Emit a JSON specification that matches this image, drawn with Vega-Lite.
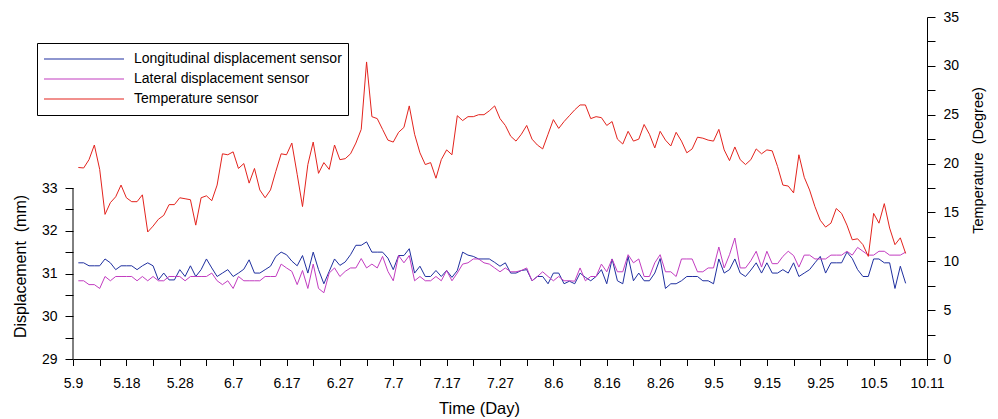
{
"$schema": "https://vega.github.io/schema/vega-lite/v6.json",
"width": 854, "height": 342,
"autosize": "none",
"padding": {"left": 73, "top": 17, "right": 71, "bottom": 60},
"background": "white",
"config": {"view": {"stroke": null}, "font": "Liberation Sans",
  "axis": {"grid": false, "domainColor": "black", "tickColor": "black", "labelColor": "black", "titleColor": "black", "labelFont": "Liberation Sans", "titleFont": "Liberation Sans", "labelFontSize": 14, "titleFontSize": 16, "titleFontWeight": "normal", "domainWidth": 1, "tickWidth": 1, "labelOverlap": false, "labelFlush": false, "labelBound": false}},
"data": {"values": [
{"d":1,"lon":31.25,"lat":30.83,"temp":19.6},{"d":2,"lon":31.25,"lat":30.83,"temp":19.55},{"d":3,"lon":31.18,"lat":30.74,"temp":20.4},{"d":4,"lon":31.18,"lat":30.74,"temp":21.9},{"d":5,"lon":31.18,"lat":30.65,"temp":19.4},
{"d":6,"lon":31.34,"lat":30.93,"temp":14.8},{"d":7,"lon":31.25,"lat":30.83,"temp":16.0},{"d":8,"lon":31.09,"lat":30.93,"temp":16.6},{"d":9,"lon":31.18,"lat":30.93,"temp":17.8},{"d":10,"lon":31.18,"lat":30.93,"temp":16.5},
{"d":11,"lon":31.18,"lat":30.93,"temp":16.1},{"d":12,"lon":31.09,"lat":30.83,"temp":16.1},{"d":13,"lon":31.18,"lat":30.93,"temp":16.8},{"d":14,"lon":31.25,"lat":30.83,"temp":13.0},{"d":15,"lon":31.18,"lat":30.93,"temp":13.6},
{"d":16,"lon":30.85,"lat":30.83,"temp":14.3},{"d":17,"lon":31.01,"lat":30.83,"temp":14.7},{"d":18,"lon":30.85,"lat":30.93,"temp":15.8},{"d":19,"lon":30.85,"lat":30.93,"temp":15.8},{"d":20,"lon":31.09,"lat":30.93,"temp":16.5},
{"d":21,"lon":30.93,"lat":30.83,"temp":16.4},{"d":22,"lon":31.18,"lat":30.93,"temp":16.3},{"d":23,"lon":30.93,"lat":30.93,"temp":13.7},{"d":24,"lon":31.09,"lat":30.93,"temp":16.5},{"d":25,"lon":31.34,"lat":30.93,"temp":16.7},
{"d":26,"lon":31.13,"lat":31.01,"temp":16.2},{"d":27,"lon":30.93,"lat":30.83,"temp":17.8},{"d":28,"lon":31.01,"lat":30.74,"temp":21.0},{"d":29,"lon":31.09,"lat":30.83,"temp":20.9},{"d":30,"lon":30.93,"lat":30.65,"temp":21.2},
{"d":31,"lon":31.01,"lat":30.93,"temp":19.5},{"d":32,"lon":31.10,"lat":30.83,"temp":20.0},{"d":33,"lon":31.32,"lat":30.83,"temp":18.0},{"d":34,"lon":31.01,"lat":30.83,"temp":19.5},{"d":35,"lon":31.01,"lat":30.83,"temp":17.3},
{"d":36,"lon":31.09,"lat":30.93,"temp":16.5},{"d":37,"lon":31.17,"lat":30.93,"temp":17.3},{"d":38,"lon":31.40,"lat":30.93,"temp":19.2},{"d":39,"lon":31.50,"lat":31.22,"temp":21.0},{"d":40,"lon":31.44,"lat":31.13,"temp":20.9},
{"d":41,"lon":31.29,"lat":31.05,"temp":22.1},{"d":42,"lon":31.18,"lat":30.74,"temp":18.9},{"d":43,"lon":31.42,"lat":31.07,"temp":15.6},{"d":44,"lon":31.01,"lat":30.65,"temp":19.9},{"d":45,"lon":31.50,"lat":31.22,"temp":22.2},
{"d":46,"lon":31.09,"lat":30.65,"temp":19.0},{"d":47,"lon":30.76,"lat":30.55,"temp":20.1},{"d":48,"lon":31.05,"lat":31.01,"temp":19.4},{"d":49,"lon":31.34,"lat":31.13,"temp":21.9},{"d":50,"lon":31.19,"lat":30.93,"temp":20.4},
{"d":51,"lon":31.27,"lat":31.05,"temp":20.5},{"d":52,"lon":31.44,"lat":31.13,"temp":21.0},{"d":53,"lon":31.66,"lat":31.13,"temp":22.1},{"d":54,"lon":31.66,"lat":31.35,"temp":23.5},{"d":55,"lon":31.74,"lat":31.13,"temp":30.4},
{"d":56,"lon":31.50,"lat":31.22,"temp":24.8},{"d":57,"lon":31.50,"lat":31.13,"temp":24.6},{"d":58,"lon":31.50,"lat":31.40,"temp":23.5},{"d":59,"lon":31.36,"lat":31.05,"temp":22.4},{"d":60,"lon":31.09,"lat":30.83,"temp":22.2},
{"d":61,"lon":31.42,"lat":31.42,"temp":23.2},{"d":62,"lon":31.42,"lat":31.25,"temp":23.7},{"d":63,"lon":31.58,"lat":31.42,"temp":25.9},{"d":64,"lon":31.01,"lat":30.83,"temp":23.0},{"d":65,"lon":31.17,"lat":30.93,"temp":21.1},
{"d":66,"lon":30.93,"lat":30.83,"temp":19.9},{"d":67,"lon":30.93,"lat":30.83,"temp":20.1},{"d":68,"lon":31.07,"lat":30.93,"temp":18.5},{"d":69,"lon":30.93,"lat":30.83,"temp":20.4},{"d":70,"lon":31.07,"lat":31.07,"temp":21.4},
{"d":71,"lon":30.91,"lat":30.83,"temp":20.9},{"d":72,"lon":31.07,"lat":31.01,"temp":24.9},{"d":73,"lon":31.50,"lat":31.22,"temp":24.4},{"d":74,"lon":31.43,"lat":31.25,"temp":24.8},{"d":75,"lon":31.40,"lat":31.34,"temp":24.8},
{"d":76,"lon":31.34,"lat":31.34,"temp":25.0},{"d":77,"lon":31.34,"lat":31.25,"temp":25.0},{"d":78,"lon":31.34,"lat":31.22,"temp":25.4},{"d":79,"lon":31.26,"lat":31.13,"temp":25.9},{"d":80,"lon":31.17,"lat":31.04,"temp":24.6},
{"d":81,"lon":31.25,"lat":31.13,"temp":23.9},{"d":82,"lon":31.01,"lat":31.04,"temp":22.8},{"d":83,"lon":31.01,"lat":31.04,"temp":22.3},{"d":84,"lon":31.07,"lat":31.07,"temp":23.0},{"d":85,"lon":31.09,"lat":31.13,"temp":23.9},
{"d":86,"lon":30.83,"lat":30.83,"temp":22.5},{"d":87,"lon":30.93,"lat":30.93,"temp":21.9},{"d":88,"lon":30.93,"lat":31.04,"temp":21.5},{"d":89,"lon":30.76,"lat":30.93,"temp":23.0},{"d":90,"lon":31.01,"lat":30.83,"temp":24.5},
{"d":91,"lon":31.01,"lat":30.93,"temp":23.6},{"d":92,"lon":30.76,"lat":30.83,"temp":24.3},{"d":93,"lon":30.82,"lat":30.83,"temp":24.9},{"d":94,"lon":30.76,"lat":30.82,"temp":25.5},{"d":95,"lon":31.01,"lat":31.13,"temp":26.0},
{"d":96,"lon":30.91,"lat":30.83,"temp":26.0},{"d":97,"lon":30.83,"lat":30.93,"temp":24.6},{"d":98,"lon":30.93,"lat":30.93,"temp":24.8},{"d":99,"lon":31.09,"lat":31.22,"temp":24.7},{"d":100,"lon":30.76,"lat":31.04,"temp":23.9},
{"d":101,"lon":31.34,"lat":31.34,"temp":24.3},{"d":102,"lon":30.83,"lat":31.04,"temp":22.5},{"d":103,"lon":30.76,"lat":31.04,"temp":22.0},{"d":104,"lon":31.40,"lat":31.44,"temp":23.3},{"d":105,"lon":30.83,"lat":31.25,"temp":22.3},
{"d":106,"lon":31.01,"lat":31.34,"temp":22.5},{"d":107,"lon":30.83,"lat":30.93,"temp":24.0},{"d":108,"lon":30.83,"lat":30.93,"temp":23.0},{"d":109,"lon":31.01,"lat":31.25,"temp":21.6},{"d":110,"lon":31.35,"lat":31.44,"temp":23.3},
{"d":111,"lon":30.65,"lat":31.04,"temp":22.4},{"d":112,"lon":30.76,"lat":31.04,"temp":21.8},{"d":113,"lon":30.76,"lat":30.93,"temp":23.2},{"d":114,"lon":30.83,"lat":31.34,"temp":22.3},{"d":115,"lon":30.93,"lat":31.34,"temp":21.1},
{"d":116,"lon":30.93,"lat":31.34,"temp":21.5},{"d":117,"lon":30.93,"lat":31.04,"temp":22.7},{"d":118,"lon":30.83,"lat":31.04,"temp":22.6},{"d":119,"lon":30.83,"lat":31.13,"temp":22.4},{"d":120,"lon":30.76,"lat":31.13,"temp":22.3},
{"d":121,"lon":31.34,"lat":31.62,"temp":23.5},{"d":122,"lon":31.01,"lat":31.13,"temp":21.4},{"d":123,"lon":31.09,"lat":31.44,"temp":20.3},{"d":124,"lon":31.34,"lat":31.83,"temp":21.7},{"d":125,"lon":31.01,"lat":31.13,"temp":20.4},
{"d":126,"lon":30.93,"lat":31.13,"temp":19.9},{"d":127,"lon":31.08,"lat":31.30,"temp":20.4},{"d":128,"lon":31.25,"lat":31.52,"temp":21.5},{"d":129,"lon":31.01,"lat":31.15,"temp":21.0},{"d":130,"lon":31.25,"lat":31.52,"temp":21.4},
{"d":131,"lon":31.01,"lat":31.23,"temp":21.3},{"d":132,"lon":31.01,"lat":31.23,"temp":19.7},{"d":133,"lon":31.09,"lat":31.40,"temp":17.8},{"d":134,"lon":31.01,"lat":31.52,"temp":17.7},{"d":135,"lon":31.25,"lat":31.42,"temp":17.0},
{"d":136,"lon":30.93,"lat":31.15,"temp":20.9},{"d":137,"lon":31.01,"lat":31.43,"temp":18.6},{"d":138,"lon":31.09,"lat":31.43,"temp":17.3},{"d":139,"lon":31.25,"lat":31.34,"temp":15.6},{"d":140,"lon":31.40,"lat":31.34,"temp":14.2},
{"d":141,"lon":31.01,"lat":31.34,"temp":13.5},{"d":142,"lon":31.25,"lat":31.43,"temp":13.9},{"d":143,"lon":31.25,"lat":31.43,"temp":15.4},{"d":144,"lon":31.25,"lat":31.43,"temp":14.9},{"d":145,"lon":31.50,"lat":31.52,"temp":13.7},
{"d":146,"lon":31.35,"lat":31.43,"temp":12.2},{"d":147,"lon":31.09,"lat":31.61,"temp":12.3},{"d":148,"lon":30.93,"lat":31.52,"temp":11.7},{"d":149,"lon":30.93,"lat":31.43,"temp":10.5},{"d":150,"lon":31.34,"lat":31.43,"temp":14.9},
{"d":151,"lon":31.34,"lat":31.52,"temp":13.9},{"d":152,"lon":31.25,"lat":31.52,"temp":15.9},{"d":153,"lon":31.25,"lat":31.43,"temp":13.4},{"d":154,"lon":30.65,"lat":31.43,"temp":11.7},{"d":155,"lon":31.17,"lat":31.43,"temp":12.4},
{"d":156,"lon":30.77,"lat":31.50,"temp":10.8}
]},
"encoding": {"x": {"field": "d", "type": "quantitative", "scale": {"domain": [0, 160], "nice": false, "zero": false},
  "axis": {"values": [0,5,10,15,20,25,30,35,40,45,50,55,60,65,70,75,80,85,90,95,100,105,110,115,120,125,130,135,140,145,150,155,160],
    "labelExpr": "datum.value % 10 ? '' : ['5.9','5.18','5.28','6.7','6.17','6.27','7.7','7.17','7.27','8.6','8.16','8.26','9.5','9.15','9.25','10.5','10.11'][datum.value/10]",
    "tickSize": 6.5, "labelPadding": 11, "title": "Time (Day)", "titleFontSize": 16.5, "titleX": 406, "titleY": 49, "titleBaseline": "middle", "titleAnchor": "middle",
    "encode": {"ticks": {"update": {"y2": {"signal": "datum.value % 10 ? 3.5 : 6.5"}}},
               "labels": {"update": {"dx": {"signal": "datum.value == 0 ? 12 : datum.value == 160 ? -9 : 0"}}}}}}},
"layer": [
  {"transform": [{"fold": ["lon", "lat"], "as": ["s", "v"]}],
   "mark": {"type": "line", "strokeWidth": 1},
   "encoding": {
     "y": {"field": "v", "type": "quantitative", "scale": {"domain": [29, 37], "nice": false, "zero": false},
       "axis": {"orient": "left", "values": [29,29.5,30,30.5,31,31.5,32,32.5,33], "labelExpr": "datum.value % 1 ? '' : datum.label",
         "domain": false, "tickSize": 8, "labelPadding": 8, "title": "Displacement\u00a0 (mm)", "titleAngle": 270, "titleX": -53, "titleY": 249, "titleBaseline": "middle", "titleAnchor": "middle",
         "encode": {"ticks": {"update": {"x2": {"signal": "datum.value % 1 ? -4 : -8"}}}}}},
     "color": {"field": "s", "type": "nominal",
       "scale": {"domain": ["lon", "lat", "temp"], "range": ["#1f2f9f", "#c23cc0", "#e3231d"]},
       "legend": {"orient": "none", "legendX": -36, "legendY": 26, "title": null, "symbolType": "stroke", "symbolSize": 6400, "symbolStrokeWidth": 1.2,
         "clipHeight": 20, "rowPadding": 0, "padding": 6, "labelFontSize": 14, "labelFont": "Liberation Sans", "labelColor": "black", "labelOffset": 9, "labelLimit": 400,
         "strokeColor": "black", "fillColor": "white",
         "labelExpr": "datum.label == 'lon' ? 'Longitudinal displacement sensor' : datum.label == 'lat' ? 'Lateral displacement sensor' : 'Temperature sensor'"}}}},
  {"data": {"values": [{"d": 0, "lo": 29, "hi": 33}]},
   "mark": {"type": "rule", "stroke": "#000000", "strokeWidth": 1},
   "encoding": {"x": {"field": "d", "type": "quantitative"},
     "y": {"field": "lo", "type": "quantitative", "scale": {"domain": [29, 37], "nice": false, "zero": false}, "axis": null},
     "y2": {"field": "hi"}}},
  {"mark": {"type": "line", "strokeWidth": 1},
   "encoding": {
     "y": {"field": "temp", "type": "quantitative", "scale": {"domain": [0, 35], "nice": false, "zero": true},
       "axis": {"orient": "right", "values": [0,2.5,5,7.5,10,12.5,15,17.5,20,22.5,25,27.5,30,32.5,35], "labelExpr": "datum.value % 5 ? '' : datum.label",
         "tickSize": 8, "labelPadding": 8, "title": "Temperature\u00a0 (Degree)", "titleFontSize": 14.5, "titleAngle": 270, "titleX": 51, "titleY": 143, "titleBaseline": "middle", "titleAnchor": "middle",
         "encode": {"ticks": {"update": {"x2": {"signal": "datum.value % 5 ? 4 : 8"}}}}}},
     "color": {"datum": "temp"}}}
],
"resolve": {"scale": {"y": "independent"}}
}
